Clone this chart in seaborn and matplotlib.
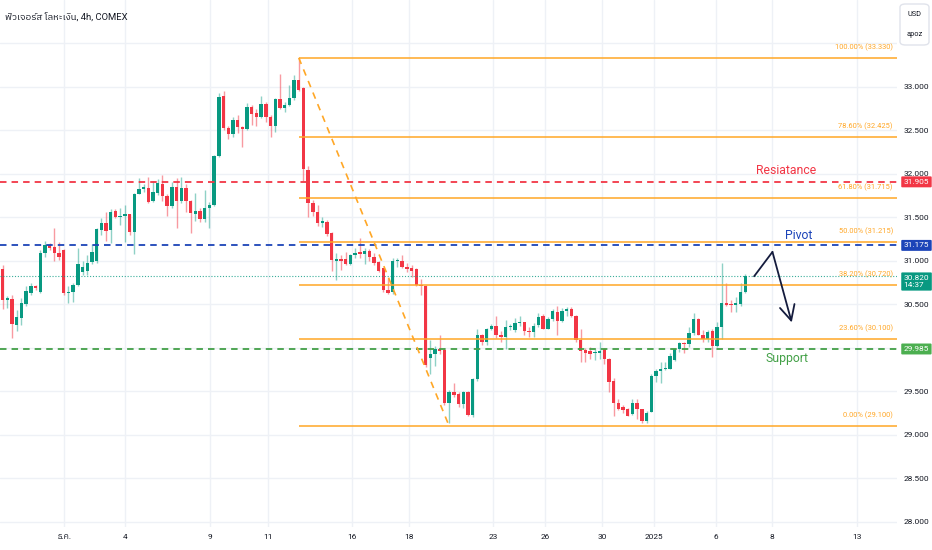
import numpy as np
import matplotlib
matplotlib.use("Agg")
import matplotlib.pyplot as plt
import seaborn as sns
from matplotlib import font_manager
from matplotlib.patches import FancyBboxPatch
from matplotlib.transforms import blended_transform_factory

# ---------------- data ----------------
title = "ฟิวเจอร์ส โลหะเงิน, 4h, COMEX"

opens = [30.90, 30.55, 30.56, 30.26, 30.34, 30.50, 30.63, 30.71, 30.64, 31.09,
         31.18, 31.16, 31.09, 31.12, 30.63, 30.64, 30.72, 30.87, 30.88, 30.98,
         31.00, 31.35, 31.43, 31.35, 31.57, 31.50, 31.51, 31.53, 31.33, 31.76,
         31.82, 31.84, 31.69, 31.78, 31.88, 31.74, 31.63, 31.85, 31.68, 31.83,
         31.69, 31.54, 31.57, 31.48, 31.61, 31.64, 32.20, 32.89, 32.52, 32.46,
         32.62, 32.53, 32.51, 32.76, 32.70, 32.65, 32.80, 32.65, 32.55, 32.86,
         32.75, 32.79, 32.87, 33.08, 32.98, 32.04, 31.66, 31.56, 31.43, 31.44,
         31.32, 31.00, 31.02, 31.02, 30.96, 31.06, 31.10, 31.08, 31.11, 31.04,
         30.98, 30.91, 30.66, 30.64, 30.99, 30.99, 30.93, 30.91, 30.90, 30.72,
         30.71, 29.88, 29.93, 29.99, 29.97, 29.36, 29.49, 29.47, 29.35, 29.49,
         29.23, 29.64, 30.15, 30.06, 30.22, 30.25, 30.14, 30.12, 30.24, 30.20,
         30.28, 30.29, 30.19, 30.18, 30.26, 30.36, 30.22, 30.33, 30.41, 30.31,
         30.42, 30.45, 30.36, 30.09, 29.97, 29.96, 29.94, 29.94, 29.98, 29.87,
         29.62, 29.37, 29.32, 29.30, 29.24, 29.37, 29.29, 29.16, 29.26, 29.68,
         29.73, 29.75, 29.76, 29.86, 29.99, 30.05, 30.04, 30.17, 30.33, 30.15,
         30.10, 30.19, 30.02, 30.24, 30.51, 30.50, 30.49, 30.50, 30.64]
highs = [30.95, 30.59, 30.61, 30.43, 30.57, 30.71, 30.74, 30.72, 31.12, 31.23,
         31.20, 31.38, 31.21, 31.13, 30.71, 30.74, 31.14, 31.00, 31.06, 31.19,
         31.38, 31.49, 31.56, 31.59, 31.59, 31.61, 31.64, 31.54, 31.78, 31.95,
         31.88, 31.96, 31.91, 31.94, 31.98, 31.76, 31.90, 31.95, 31.96, 31.88,
         31.70, 31.78, 31.60, 31.81, 31.67, 32.21, 32.92, 32.95, 32.55, 32.65,
         32.67, 32.55, 32.81, 32.79, 32.74, 32.89, 32.82, 32.67, 32.87, 33.14,
         32.82, 33.02, 33.13, 33.33, 33.00, 32.09, 31.70, 31.64, 31.50, 31.47,
         31.33, 31.09, 31.06, 31.10, 31.08, 31.14, 31.26, 31.15, 31.13, 31.09,
         31.00, 30.92, 30.80, 31.03, 31.03, 31.06, 30.97, 30.95, 30.91, 30.79,
         30.72, 30.09, 30.02, 30.14, 30.00, 29.51, 29.59, 29.49, 29.50, 29.50,
         29.65, 30.22, 30.16, 30.23, 30.27, 30.36, 30.19, 30.32, 30.27, 30.34,
         30.36, 30.30, 30.24, 30.28, 30.40, 30.39, 30.35, 30.45, 30.48, 30.46,
         30.47, 30.47, 30.37, 30.21, 30.00, 30.01, 29.98, 30.06, 30.00, 29.88,
         29.65, 29.41, 29.34, 29.31, 29.41, 29.41, 29.30, 29.27, 29.70, 29.75,
         29.83, 29.83, 29.94, 30.00, 30.06, 30.07, 30.24, 30.40, 30.34, 30.20,
         30.20, 30.21, 30.29, 30.97, 30.74, 30.55, 30.58, 30.74, 30.85]
lows = [30.44, 30.46, 30.11, 30.19, 30.26, 30.48, 30.60, 30.66, 30.63, 31.04,
        31.12, 31.00, 31.01, 30.60, 30.51, 30.52, 30.71, 30.83, 30.83, 30.96,
        30.97, 31.29, 31.22, 31.20, 31.49, 31.41, 31.21, 31.29, 31.08, 31.76,
        31.79, 31.66, 31.67, 31.75, 31.69, 31.51, 31.61, 31.38, 31.66, 31.56,
        31.32, 31.46, 31.44, 31.44, 31.38, 31.63, 32.19, 32.50, 32.40, 32.42,
        32.47, 32.30, 32.50, 32.56, 32.55, 32.64, 32.59, 32.42, 32.48, 32.74,
        32.71, 32.78, 32.84, 32.95, 31.92, 31.50, 31.51, 31.40, 31.39, 31.28,
        30.88, 30.78, 30.89, 30.95, 30.95, 31.03, 31.03, 30.96, 31.00, 30.95,
        30.87, 30.64, 30.62, 30.62, 30.93, 30.91, 30.87, 30.81, 30.71, 30.60,
        29.78, 29.70, 29.79, 29.93, 29.34, 29.13, 29.43, 29.32, 29.31, 29.22,
        29.20, 29.62, 30.03, 30.03, 30.20, 30.11, 30.06, 29.99, 30.20, 30.18,
        30.25, 30.14, 30.12, 30.12, 30.24, 30.21, 30.21, 30.31, 30.14, 30.29,
        30.36, 30.35, 30.07, 29.84, 29.84, 29.87, 29.86, 29.87, 29.81, 29.49,
        29.22, 29.28, 29.25, 29.21, 29.23, 29.18, 29.14, 29.14, 29.26, 29.61,
        29.59, 29.74, 29.75, 29.85, 29.95, 29.94, 30.01, 30.14, 30.14, 30.07,
        30.07, 29.89, 30.01, 30.10, 30.48, 30.41, 30.41, 30.48, 30.63]
closes = [30.55, 30.57, 30.27, 30.35, 30.51, 30.65, 30.71, 30.68, 31.09, 31.18,
          31.15, 31.09, 31.04, 30.63, 30.64, 30.72, 30.96, 30.93, 30.97, 31.10,
          31.36, 31.43, 31.34, 31.56, 31.50, 31.51, 31.53, 31.33, 31.77, 31.82,
          31.85, 31.67, 31.79, 31.89, 31.74, 31.63, 31.85, 31.68, 31.83, 31.69,
          31.55, 31.57, 31.48, 31.61, 31.64, 32.20, 32.88, 32.52, 32.45, 32.61,
          32.53, 32.51, 32.76, 32.69, 32.65, 32.80, 32.65, 32.55, 32.86, 32.75,
          32.79, 32.87, 33.07, 32.96, 32.05, 31.66, 31.56, 31.43, 31.45, 31.31,
          31.01, 31.02, 31.00, 30.96, 31.06, 31.09, 31.08, 31.11, 31.04, 30.97,
          30.88, 30.66, 30.63, 30.99, 31.00, 30.93, 30.90, 30.88, 30.72, 30.71,
          29.80, 29.93, 29.99, 29.96, 29.36, 29.49, 29.46, 29.35, 29.49, 29.23,
          29.64, 30.15, 30.06, 30.22, 30.25, 30.14, 30.12, 30.24, 30.25, 30.28,
          30.30, 30.19, 30.18, 30.25, 30.35, 30.22, 30.33, 30.42, 30.31, 30.42,
          30.44, 30.36, 30.09, 29.96, 29.94, 29.93, 29.95, 29.96, 29.87, 29.61,
          29.37, 29.30, 29.28, 29.22, 29.37, 29.29, 29.16, 29.25, 29.68, 29.73,
          29.76, 29.76, 29.90, 29.99, 30.05, 30.04, 30.17, 30.33, 30.15, 30.10,
          30.18, 30.02, 30.24, 30.51, 30.49, 30.49, 30.51, 30.64, 30.82]

# time axis (bar-index positions of the day labels)
tick_pos = [13.1, 26.0, 44.1, 56.4, 74.3, 86.4, 104.3, 115.4, 127.5, 138.6, 151.8, 163.7, 181.8]
tick_labels = ["ธ.ค.", "4", "9", "11", "16", "18", "23", "26", "30", "2025", "6", "8", "13"]

price_grid = [28.0, 28.5, 29.0, 29.5, 30.0, 30.5, 31.0, 31.5, 32.0, 32.5, 33.0, 33.5]

fib_ratios = [0.0, 0.236, 0.382, 0.5, 0.618, 0.786, 1.0]
fib_prices = [29.100, 30.100, 30.720, 31.215, 31.715, 32.425, 33.330]
fib_start_bar = 63
fib_diag_x = [63, 95]
fib_diag_y = [33.330, 29.100]

resistance = 31.905
pivot = 31.175
support = 29.985
last_price = 30.820
countdown = "14:37"

arrow_x = [159.9, 163.8, 167.9]
arrow_y = [30.82, 31.10, 30.29]

# ---------------- styling ----------------
sns.set_theme(style="white")
names = {f.name for f in font_manager.fontManager.ttflist}


def pick(*cands):
    for c in cands:
        if c in names:
            return c
    return "DejaVu Sans"


narrow = pick("Liberation Sans Narrow", "Roboto", "DejaVu Sans")
scale = 1.0 if narrow == "Liberation Sans Narrow" else 0.85

thai_font = None
try:
    from matplotlib.ft2font import FT2Font
    cand = sorted(font_manager.fontManager.ttflist, key=lambda f: ("Thai" not in f.name, f.name))
    for f in cand:
        if "CJK" in f.name:
            continue
        try:
            cm = FT2Font(f.fname).get_charmap()
        except Exception:
            continue
        if 0x0E1F in cm and 0x0E40 in cm:
            thai_font = f.name
            break
except Exception:
    thai_font = None

fams = [narrow] + ([thai_font] if thai_font else []) + ["DejaVu Sans"]
plt.rcParams["font.family"] = fams
plt.rcParams["axes.unicode_minus"] = False

UP = "#089981"
DOWN = "#f23645"
TXT = "#131722"
GRID = "#eef1f6"
ORANGE = "#ffa726"
RED = "#f23645"
BLUE = "#1c44b8"
GREEN = "#43a047"

fig = plt.figure(figsize=(9.32, 5.5), dpi=100)
fig.patch.set_facecolor("white")
ax = fig.add_axes([0, 23 / 550, 897 / 932, 527 / 550])
ax.set_facecolor("white")
for s in ax.spines.values():
    s.set_visible(False)

o = np.array(opens)
h = np.array(highs)
l = np.array(lows)
c = np.array(closes)
x = np.arange(len(o))
up = c >= o

ax.set_xlim(-0.57, 190.3)
ax.set_ylim(27.94, 33.994)

# grid
ax.set_yticks(price_grid)
ax.set_yticklabels([f"{v:.3f}" if v <= 33.0 else "" for v in price_grid])
ax.set_xticks(tick_pos)
ax.set_xticklabels(tick_labels)
ax.grid(True, color=GRID, lw=1.0, zorder=0)
ax.set_axisbelow(True)
ax.yaxis.tick_right()
ax.tick_params(axis="y", length=0, pad=5, labelsize=7.0 * scale, labelcolor=TXT)
ax.tick_params(axis="x", length=0, pad=5, labelsize=7.0 * scale, labelcolor=TXT)

# candles
wick_cols = [(0.031, 0.6, 0.506, 0.45) if u else (0.949, 0.212, 0.271, 0.5) for u in up]
ax.vlines(x, l, h, colors=wick_cols, lw=1.0, zorder=2)
body_cols = [UP if u else DOWN for u in up]
ax.bar(x, np.maximum(np.abs(c - o), 0.012), bottom=np.minimum(o, c), width=0.72,
       color=body_cols, linewidth=0, zorder=3)

# horizontal S/R lines
ax.axhline(resistance, color=RED, lw=1.3, dashes=(3.6, 2.8), zorder=4)
ax.axhline(pivot, color=BLUE, lw=1.3, dashes=(3.6, 2.8), zorder=4)
ax.axhline(support, color=GREEN, lw=1.3, dashes=(3.6, 2.8), zorder=4)
ax.axhline(last_price, color=UP, lw=0.8, dashes=(1, 1.6), alpha=0.8, zorder=4)

# fibonacci retracement
ax.hlines(fib_prices, fib_start_bar, ax.get_xlim()[1], colors=ORANGE, lw=1.1, zorder=4)
sns.lineplot(x=fib_diag_x, y=fib_diag_y, ax=ax, color=ORANGE, lw=1.2,
             dashes=False, legend=False, zorder=4).lines[-1].set_dashes((4, 3.5))
bt = blended_transform_factory(ax.transAxes, ax.transData)
for r, p in zip(fib_ratios, fib_prices):
    ax.annotate(f"{r * 100:.2f}% ({p:.3f})", xy=(0.9955, p), xycoords=bt,
                xytext=(0, 7.8), textcoords="offset points", ha="right", va="center",
                fontsize=6.4 * scale, color=ORANGE, zorder=5)

# labels
ax.text(166.7, 32.04, "Resiatance", color=RED, fontsize=10.4 * scale, ha="center", va="center", zorder=6)
ax.text(169.3, 31.283, "Pivot", color=BLUE, fontsize=10.4 * scale, ha="center", va="center", zorder=6)
ax.text(166.9, 29.881, "Support", color=GREEN, fontsize=10.4 * scale, ha="center", va="center", zorder=6)

# projection arrow
sns.lineplot(x=arrow_x[:2], y=arrow_y[:2], ax=ax, color="#141b3d", lw=1.3, legend=False, zorder=7)
ax.annotate("", xy=(arrow_x[2], arrow_y[2]), xytext=(arrow_x[1], arrow_y[1]),
            arrowprops=dict(arrowstyle="->,head_length=0.9,head_width=0.45", color="#141b3d",
                            lw=1.3, shrinkA=0, shrinkB=0), zorder=7)

# price tags on the axis
def tag(y, text, color):
    ax.text(1.0075, y, text, transform=bt, ha="left", va="center", color="white",
            fontsize=7.0 * scale, linespacing=1.25, clip_on=False, zorder=20,
            bbox=dict(boxstyle="round,pad=0.3,rounding_size=0.12", fc=color, ec="none"))


tag(resistance, f"{resistance:.3f}", RED)
tag(pivot, f"{pivot:.3f}", BLUE)
tag(last_price - 0.06, f"{last_price:.3f}\n{countdown}", UP)
tag(support, f"{support:.3f}", "#4caf50")

# currency box
fig.patches.append(FancyBboxPatch((900 / 932, 1 - 45 / 550), 29 / 932, 41 / 550,
                                  boxstyle="round,pad=0,rounding_size=0.006",
                                  transform=fig.transFigure, fc="white", ec="#e0e3eb", lw=1.0))
fig.text(914.5 / 932, 1 - 14 / 550, "USD", ha="center", va="center", fontsize=6.3 * scale, color=TXT)
fig.text(914.5 / 932, 1 - 35 / 550, "apoz", ha="center", va="center", fontsize=6.3 * scale, color=TXT)

# title
fig.text(5 / 932, 1 - 17 / 550, title, ha="left", va="center", fontsize=8.0 * scale, color=TXT)

fig.savefig("out.png", dpi=100, facecolor="white")
